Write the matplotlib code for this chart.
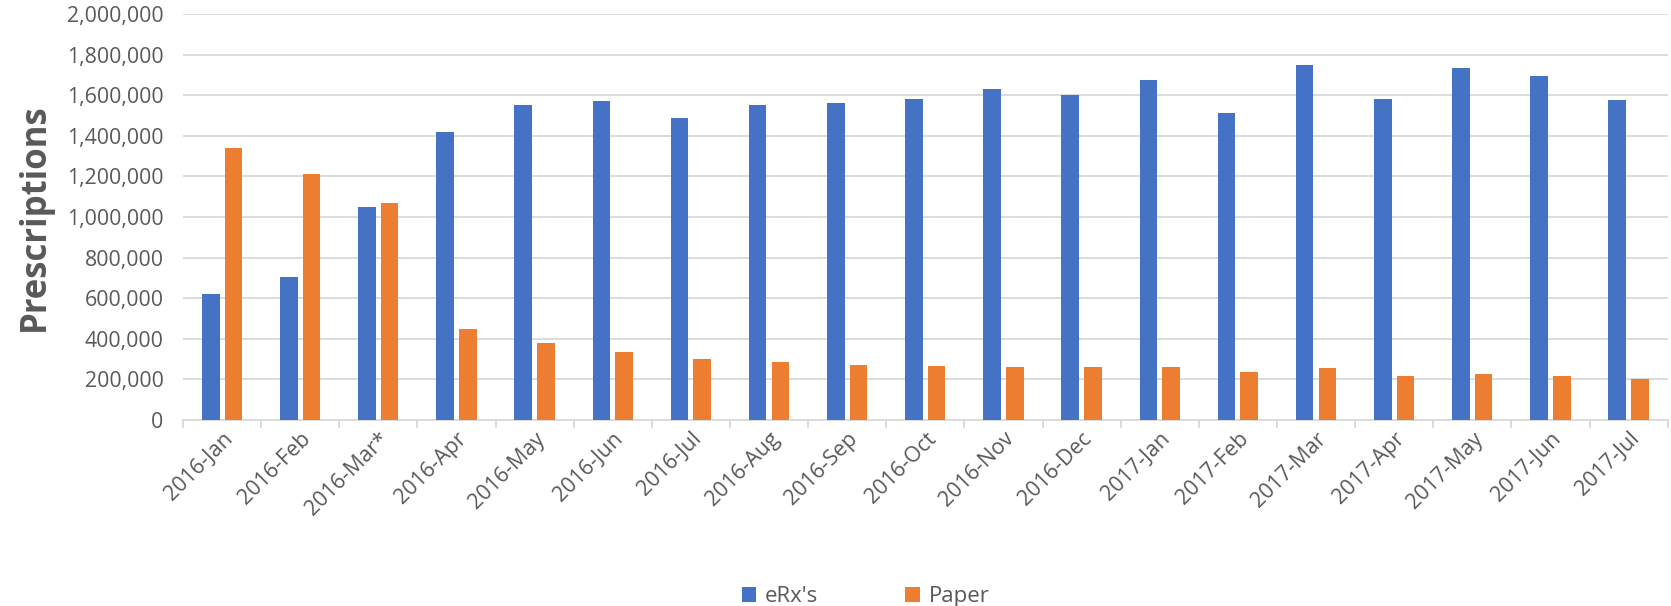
import matplotlib
matplotlib.use("Agg")
from matplotlib import pyplot as plt
from matplotlib.ticker import FuncFormatter
import numpy as np

plt.rcParams['font.family'] = ['Open Sans', 'DejaVu Sans']

# Meses
meses = ['2016-Jan', '2016-Feb', '2016-Mar*', '2016-Apr', '2016-May', '2016-Jun',
         '2016-Jul', '2016-Aug', '2016-Sep', '2016-Oct', '2016-Nov', '2016-Dec',
         '2017-Jan', '2017-Feb', '2017-Mar', '2017-Apr', '2017-May', '2017-Jun',
         '2017-Jul']

# Recetas electronicas
erx = [620000, 704000, 1050000, 1420000, 1553000, 1572000, 1485000, 1550000,
       1562000, 1580000, 1632000, 1603000, 1675000, 1512000, 1748000, 1583000,
       1734000, 1694000, 1576000]

# Recetas en papel
papel = [1340000, 1212000, 1070000, 450000, 379000, 333000, 298000, 287000,
         271000, 265000, 263000, 260000, 262000, 238000, 256000, 216000,
         224000, 218000, 202000]

gris = '#595959'
azul = '#4472C4'
naranja = '#ED7D31'

fig = plt.figure(figsize=(16.71, 6.06), dpi=100)
ax = fig.add_axes([0.1095, 0.307, 0.8885, 0.670])

x = np.arange(len(meses))
ancho = 0.225
ax.bar(x - 0.145, erx, ancho, color=azul, label="eRx's", zorder=3)
ax.bar(x + 0.145, papel, ancho, color=naranja, label='Paper', zorder=3)

ax.set_xlim(-0.5, len(meses) - 0.5)
ax.set_ylim(0, 2000000)
ax.set_yticks(np.arange(0, 2000001, 200000))
ax.yaxis.set_major_formatter(FuncFormatter(lambda v, p: f'{int(v):,}'))
ax.grid(axis='y', color='#D9D9D9', linewidth=1.3, zorder=0)

for s in ['top', 'right', 'left']:
    ax.spines[s].set_visible(False)
ax.spines['bottom'].set_color('#D9D9D9')
ax.spines['bottom'].set_linewidth(1.3)

ax.set_xticks(np.arange(-0.5, len(meses), 1), minor=False)
ax.set_xticklabels([])
ax.set_xticks(x, minor=True)
ax.set_xticklabels(meses, minor=True, rotation=45, ha='right',
                   rotation_mode='anchor', fontsize=15.5, color=gris)
ax.tick_params(axis='x', which='major', length=6, color='#D9D9D9', width=1.3)
ax.tick_params(axis='x', which='minor', length=0, pad=6)
ax.tick_params(axis='y', length=0, labelsize=15.3, labelcolor=gris, pad=14)

ax.set_ylabel('Prescriptions', fontsize=25, fontweight='bold', color=gris, labelpad=10)

fig.legend(loc='lower center', bbox_to_anchor=(0.518, -0.035), ncol=2, frameon=False,
           fontsize=16, labelcolor=gris, handlelength=0.65, handleheight=0.65,
           handletextpad=0.4, columnspacing=3.9)

fig.savefig('out.png', dpi=100)
